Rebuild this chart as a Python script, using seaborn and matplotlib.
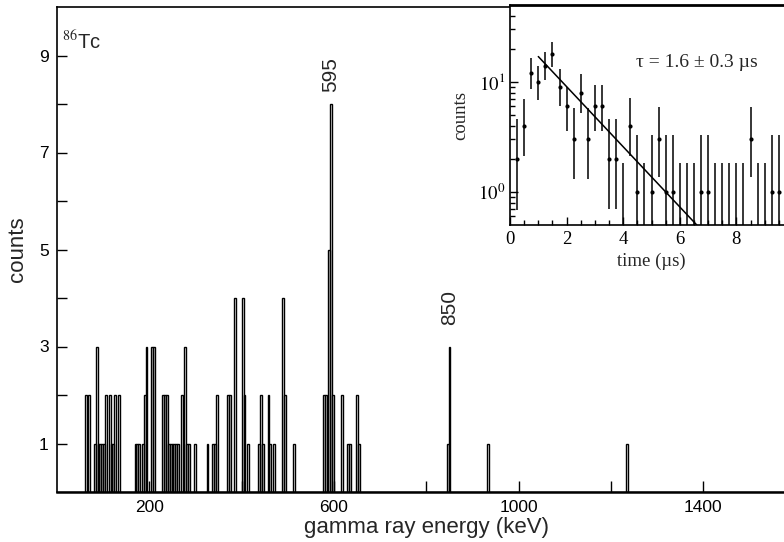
import numpy as np
import pandas as pd
import matplotlib
matplotlib.use("Agg")
import matplotlib.pyplot as plt
import seaborn as sns
from matplotlib.ticker import FixedLocator, FixedFormatter, NullFormatter

# ---------------- data: gamma spectrum (4 keV bins, centre energies) ----------------
energy_kev = [62, 70, 82, 86, 90, 94, 98, 102, 106, 114, 118, 122, 126, 134,
              170, 174, 178, 186, 190, 194, 206, 210,
              230, 234, 238, 242, 246, 250, 254, 258, 262, 270, 278, 282, 286, 298,
              326, 338, 342, 346, 370, 374, 386, 402, 406, 414,
              438, 442, 446, 458, 462, 470, 490, 494, 514,
              578, 582, 590, 594, 598, 618, 630, 634, 650, 654,
              846, 850, 934, 1234]
counts = [2, 2, 1, 3, 1, 1, 1, 1, 2, 2, 1, 1, 2, 2,
          1, 1, 1, 1, 2, 3, 3, 3,
          2, 2, 2, 1, 1, 1, 1, 1, 1, 2, 3, 1, 1, 1,
          1, 1, 1, 2, 2, 2, 4, 4, 2, 1,
          1, 2, 1, 2, 1, 1, 4, 2, 1,
          2, 2, 5, 8, 2, 2, 1, 1, 2, 1,
          1, 3, 1, 1]
peak_labels = ["595", "850"]
peak_label_energy = [593, 850]
peak_label_count = [8.25, 3.45]

x_major = [200, 600, 1000, 1400]
x_minor = [400, 800, 1200]
y_major = [1, 3, 5, 7, 9]
y_minor = [2, 4, 6, 8]

# ---------------- data: decay curve (inset) ----------------
decay_time_us = [0.25, 0.5, 0.75, 1.0, 1.25, 1.5, 1.75, 2.0, 2.25, 2.5, 2.75, 3.0,
                 3.25, 3.5, 3.75, 4.0, 4.25, 4.5, 4.75, 5.0, 5.25, 5.5, 5.75, 6.0,
                 6.25, 6.5, 6.75, 7.0, 7.25, 7.5, 7.75, 8.0, 8.25, 8.5, 8.75, 9.0,
                 9.25, 9.5]
decay_counts = [2, 4, 12, 10, 14, 18, 9, 6, 3, 8, 3, 6,
                6, 2, 2, 0, 4, 1, 0, 1, 3, 1, 1, 0,
                0, 0, 1, 1, 0, 0, 0, 0, 0, 3, 0, 0,
                1, 1]
decay_err_low = [0.68, 2.1, 8.6, 6.9, 10.4, 13.8, 6.0, 3.6, 1.3, 5.2, 1.3, 3.6,
                 3.6, 0.7, 0.7, 0.1, 2.1, 0.17, 0.1, 0.17, 1.37, 0.17, 0.17, 0.1,
                 0.1, 0.1, 0.17, 0.17, 0.1, 0.1, 0.1, 0.1, 0.1, 1.37, 0.1, 0.1,
                 0.17, 0.17]
decay_err_high = [4.6, 7.0, 16.4, 14.0, 18.6, 23.0, 13.0, 8.9, 5.8, 11.8, 5.8, 9.3,
                  9.3, 4.6, 4.6, 1.84, 7.1, 3.3, 1.84, 3.3, 5.9, 3.3, 3.3, 1.84,
                  1.84, 1.84, 3.3, 3.3, 1.84, 1.84, 1.84, 1.84, 1.84, 5.9, 1.84, 1.84,
                  3.3, 3.3]
fit_time_us = [1.0, 6.6]
fit_counts = [17.0, 0.5]

# ---------------- style ----------------
sns.set_style("ticks")
plt.rcParams["font.family"] = ["Liberation Sans", "DejaVu Sans"]
plt.rcParams["mathtext.fontset"] = "stix"

fig = plt.figure(figsize=(7.84, 5.42), dpi=100)
W, H = 784.0, 542.0

# main axes: left spine x=57, bottom y=492, top y=7
ax = fig.add_axes([57 / W, (H - 492) / H, 1600 * 0.4617 / W, 485 / H])
df = pd.DataFrame({"energy": energy_kev, "counts": counts})
sns.histplot(data=df, x="energy", weights="counts", binwidth=4, binrange=(0, 1600),
             element="bars", fill=False, color="black", linewidth=1.0, ax=ax)
ax.set_xlim(0, 1600)
ax.set_ylim(0, 10)
ax.xaxis.set_major_locator(FixedLocator(x_major))
ax.xaxis.set_minor_locator(FixedLocator(x_minor))
ax.yaxis.set_major_locator(FixedLocator(y_major))
ax.yaxis.set_minor_locator(FixedLocator(y_minor))
ax.tick_params(which="both", direction="in", colors="black", labelsize=12.5, width=1.0)
ax.tick_params(axis="x", which="both", length=8, pad=6)
ax.tick_params(axis="y", which="both", length=7, pad=6)
for s in ax.spines.values():
    s.set_color("black")
    s.set_linewidth(1.2)
ax.spines["bottom"].set_linewidth(1.8)
ax.set_xlabel("gamma ray energy (keV)", fontsize=16, labelpad=1)
ax.set_ylabel("counts", fontsize=16, labelpad=8)

for lab, e, c in zip(peak_labels, peak_label_energy, peak_label_count):
    ax.text(e, c, lab, rotation=90, ha="center", va="bottom", fontsize=15)
ax.text(10, 9.3, r"$^{86}$Tc", fontsize=14.5, ha="left", va="center",
        family=["Liberation Sans", "DejaVu Sans"])

# inset axes: left x=510, bottom y=225, top y=5 ; 1 us = 28.3 px
ax2 = fig.add_axes([510 / W, (H - 225) / H, 283 / W, 220 / H])
ax2.set_facecolor("white")
ax2.set_yscale("log")
ax2.set_xlim(0, 10)
ax2.set_ylim(0.5, 50)

t = np.array(decay_time_us)
n = np.array(decay_counts, dtype=float)
ax2.vlines(t, decay_err_low, decay_err_high, color="black", linewidth=1.1)
mask = n > 0
dots = pd.DataFrame({"t": t[mask], "n": n[mask]})
sns.scatterplot(data=dots, x="t", y="n", ax=ax2, color="black", s=9,
                marker="o", linewidth=0, legend=False)
fit = pd.DataFrame({"t": fit_time_us, "n": fit_counts})
sns.lineplot(data=fit, x="t", y="n", ax=ax2, color="black", linewidth=1.1)

serif = ["Liberation Serif", "DejaVu Serif"]
ax2.xaxis.set_major_locator(FixedLocator([0, 2, 4, 6, 8]))
ax2.xaxis.set_minor_locator(FixedLocator(np.arange(0, 10.01, 0.5)))
ax2.yaxis.set_major_locator(FixedLocator([1, 10]))
ax2.yaxis.set_major_formatter(FixedFormatter([r"$10^{0}$", r"$10^{1}$"]))
ax2.yaxis.set_minor_locator(FixedLocator([0.6, 0.7, 0.8, 0.9, 2, 3, 4, 5, 6, 7, 8, 9,
                                          20, 30, 40]))
ax2.yaxis.set_minor_formatter(NullFormatter())
ax2.tick_params(which="both", direction="in", colors="black", labelsize=13.5, width=1.0)
ax2.tick_params(which="major", length=6)
ax2.tick_params(which="minor", length=3.5)
ax2.tick_params(axis="x", pad=4)
for lbl in ax2.get_xticklabels():
    lbl.set_family(serif)
for s in ax2.spines.values():
    s.set_color("black")
    s.set_linewidth(1.2)
ax2.spines["top"].set_linewidth(2.0)
ax2.set_xlabel("time (µs)", fontsize=13.5, family=serif, labelpad=4)
ax2.set_ylabel("counts", fontsize=13.5, family=serif, labelpad=6)
ax2.text(6.6, 15, "τ = 1.6 ± 0.3 µs", fontsize=14, family=serif, ha="center", va="center")

fig.savefig("out.png", dpi=100)
